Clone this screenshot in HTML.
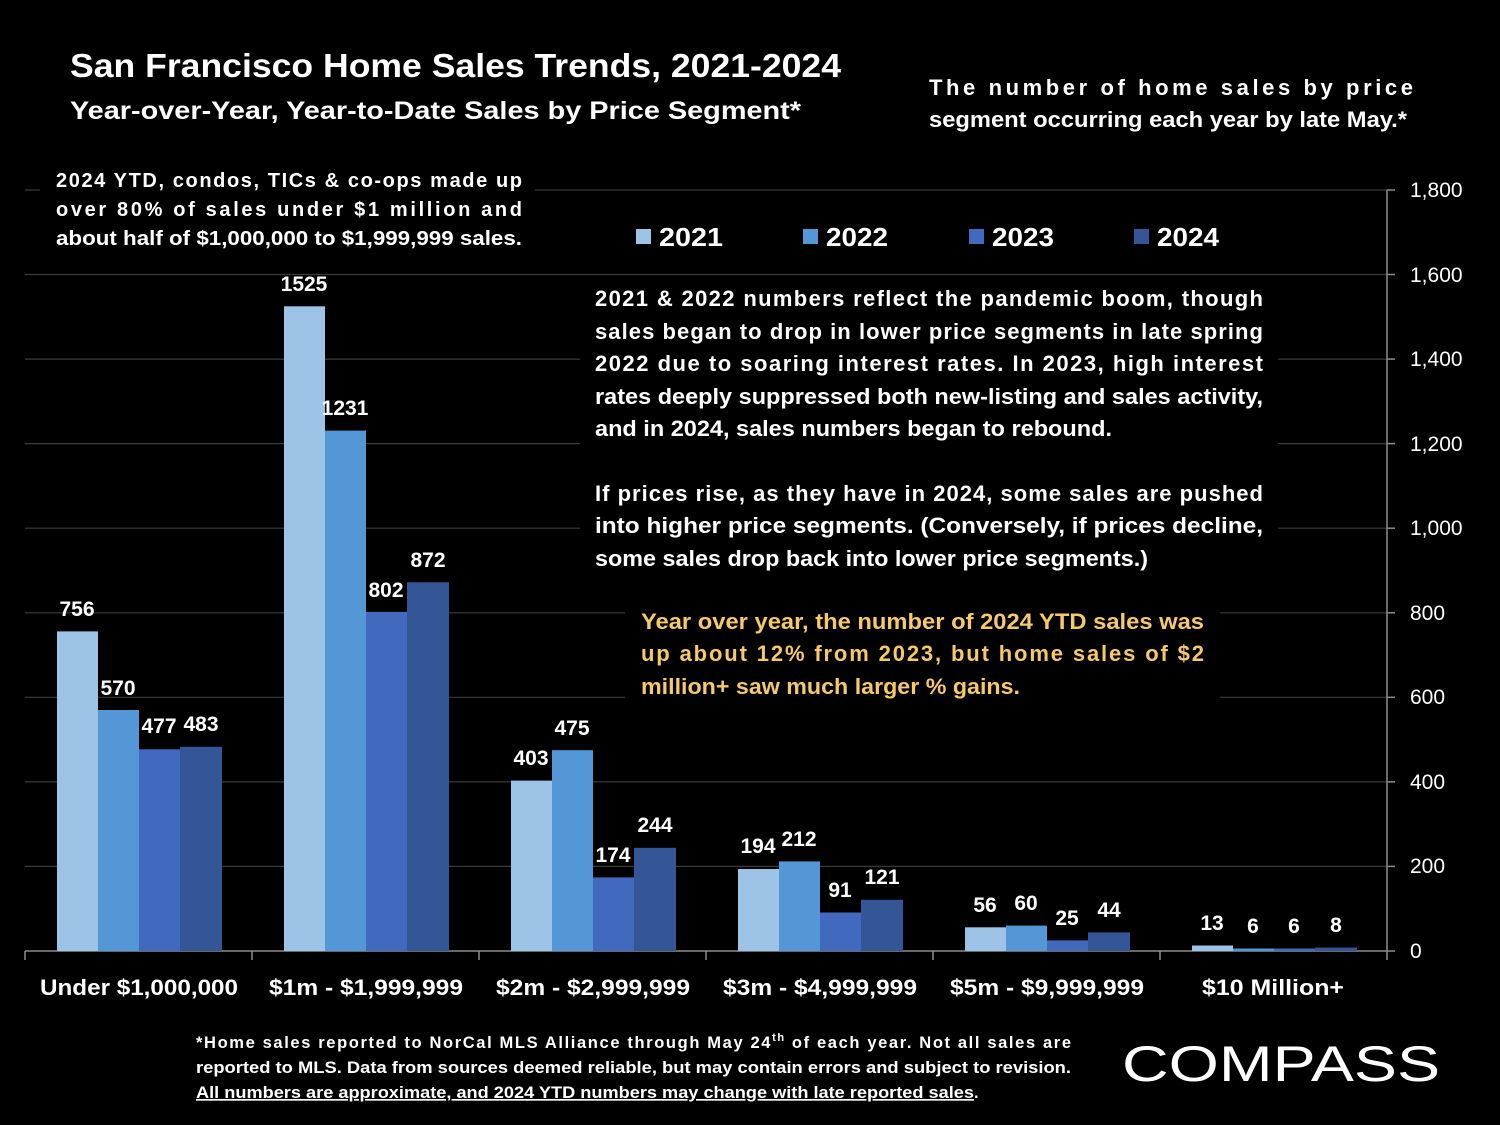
<!DOCTYPE html>
<html><head><meta charset="utf-8"><style>
html,body{margin:0;padding:0;background:#000;}
svg{display:block;font-family:"Liberation Sans",Arial,sans-serif;}
.b{font-weight:bold;fill:#fff;}
</style></head><body>
<svg width="1500" height="1125" viewBox="0 0 1500 1125" xmlns="http://www.w3.org/2000/svg">
<rect width="1500" height="1125" fill="#000"/>
<!-- gridlines -->
<g stroke="#3a3a3a" stroke-width="1.2">
<line x1="25" y1="866.4" x2="1387" y2="866.4"/>
<line x1="25" y1="781.9" x2="1387" y2="781.9"/>
<line x1="25" y1="697.3" x2="1387" y2="697.3"/>
<line x1="25" y1="612.8" x2="1387" y2="612.8"/>
<line x1="25" y1="528.2" x2="1387" y2="528.2"/>
<line x1="25" y1="443.6" x2="1387" y2="443.6"/>
<line x1="25" y1="359.1" x2="1387" y2="359.1"/>
<line x1="25" y1="274.5" x2="1387" y2="274.5"/>
<line x1="25" y1="190" x2="1387" y2="190"/>
</g>
<!-- text box backgrounds -->
<rect x="40" y="165" width="495" height="92" fill="#000"/>
<rect x="600" y="212" width="640" height="50" fill="#000"/>
<rect x="580" y="280" width="698" height="300" fill="#000"/>
<rect x="625" y="603" width="595" height="97" fill="#000"/>
<!-- axes -->
<g stroke="#8c8c8c" stroke-width="1.5">
<line x1="25" y1="951" x2="1387" y2="951"/>
<line x1="1387" y1="190" x2="1387" y2="951"/>
<line x1="25" y1="951" x2="25" y2="960"/><line x1="252" y1="951" x2="252" y2="960"/>
<line x1="479" y1="951" x2="479" y2="960"/><line x1="706" y1="951" x2="706" y2="960"/>
<line x1="933" y1="951" x2="933" y2="960"/><line x1="1160" y1="951" x2="1160" y2="960"/>
<line x1="1387" y1="951" x2="1387" y2="960"/>
<line x1="1387" y1="190" x2="1395" y2="190"/><line x1="1387" y1="274.5" x2="1395" y2="274.5"/>
<line x1="1387" y1="359.1" x2="1395" y2="359.1"/><line x1="1387" y1="443.6" x2="1395" y2="443.6"/>
<line x1="1387" y1="528.2" x2="1395" y2="528.2"/><line x1="1387" y1="612.8" x2="1395" y2="612.8"/>
<line x1="1387" y1="697.3" x2="1395" y2="697.3"/><line x1="1387" y1="781.9" x2="1395" y2="781.9"/>
<line x1="1387" y1="866.4" x2="1395" y2="866.4"/><line x1="1387" y1="951" x2="1395" y2="951"/>
</g>
<!-- y labels -->
<g fill="#fff" font-size="21" font-family="Liberation Sans, sans-serif">
<text x="1410" y="197">1,800</text><text x="1410" y="282">1,600</text>
<text x="1410" y="366">1,400</text><text x="1410" y="451">1,200</text>
<text x="1410" y="535">1,000</text><text x="1410" y="620">800</text>
<text x="1410" y="704">600</text><text x="1410" y="789">400</text>
<text x="1410" y="873">200</text><text x="1410" y="958">0</text>
</g>
<!-- bars -->
<g id="bars">
<rect x="57" y="631.4" width="41" height="319.6" fill="#9dc3e6"/>
<rect x="98" y="710" width="41" height="241" fill="#5497d6"/>
<rect x="139" y="749.3" width="41" height="201.7" fill="#4169bd"/>
<rect x="180" y="746.8" width="42" height="204.2" fill="#345697"/>
<rect x="284" y="306.3" width="41" height="644.7" fill="#9dc3e6"/>
<rect x="325" y="430.6" width="41" height="520.4" fill="#5497d6"/>
<rect x="366" y="611.9" width="41" height="339.1" fill="#4169bd"/>
<rect x="407" y="582.3" width="42" height="368.7" fill="#345697"/>
<rect x="511" y="780.6" width="41" height="170.4" fill="#9dc3e6"/>
<rect x="552" y="750.2" width="41" height="200.8" fill="#5497d6"/>
<rect x="593" y="877.4" width="41" height="73.6" fill="#4169bd"/>
<rect x="634" y="847.8" width="42" height="103.2" fill="#345697"/>
<rect x="738" y="869" width="41" height="82" fill="#9dc3e6"/>
<rect x="779" y="861.4" width="41" height="89.6" fill="#5497d6"/>
<rect x="820" y="912.5" width="41" height="38.5" fill="#4169bd"/>
<rect x="861" y="899.8" width="42" height="51.2" fill="#345697"/>
<rect x="965" y="927.3" width="41" height="23.7" fill="#9dc3e6"/>
<rect x="1006" y="925.6" width="41" height="25.4" fill="#5497d6"/>
<rect x="1047" y="940.4" width="41" height="10.6" fill="#4169bd"/>
<rect x="1088" y="932.4" width="42" height="18.6" fill="#345697"/>
<rect x="1192" y="945.5" width="41" height="5.5" fill="#9dc3e6"/>
<rect x="1233" y="948.5" width="41" height="2.5" fill="#5497d6"/>
<rect x="1274" y="948.5" width="41" height="2.5" fill="#4169bd"/>
<rect x="1315" y="947.6" width="42" height="3.4" fill="#345697"/>
</g>
<!-- value labels -->
<g class="b" font-size="21" text-anchor="middle">
<text x="77" y="616">756</text><text x="118" y="695">570</text><text x="159" y="733">477</text><text x="201" y="731">483</text>
<text x="304" y="291">1525</text><text x="345" y="415">1231</text><text x="386" y="597">802</text><text x="428" y="567">872</text>
<text x="531" y="765">403</text><text x="572" y="735">475</text><text x="613" y="862">174</text><text x="655" y="832">244</text>
<text x="758" y="853">194</text><text x="799" y="846">212</text><text x="840" y="897">91</text><text x="882" y="884">121</text>
<text x="985" y="912">56</text><text x="1026" y="910">60</text><text x="1067" y="925">25</text><text x="1109" y="917">44</text>
<text x="1212" y="930">13</text><text x="1253" y="933">6</text><text x="1294" y="933">6</text><text x="1336" y="932">8</text>
</g>
<!-- category labels -->
<g class="b" font-size="22" text-anchor="middle">
<text x="139" y="995" textLength="198" lengthAdjust="spacingAndGlyphs">Under $1,000,000</text>
<text x="366" y="995" textLength="194" lengthAdjust="spacingAndGlyphs">$1m - $1,999,999</text>
<text x="593" y="995" textLength="194" lengthAdjust="spacingAndGlyphs">$2m - $2,999,999</text>
<text x="820" y="995" textLength="194" lengthAdjust="spacingAndGlyphs">$3m - $4,999,999</text>
<text x="1047" y="995" textLength="194" lengthAdjust="spacingAndGlyphs">$5m - $9,999,999</text>
<text x="1273" y="995" textLength="142" lengthAdjust="spacingAndGlyphs">$10 Million+</text>
</g>
<!-- legend -->
<rect x="636" y="229" width="15" height="15" fill="#9dc3e6"/>
<rect x="803" y="229" width="15" height="15" fill="#5497d6"/>
<rect x="969" y="229" width="15" height="15" fill="#4169bd"/>
<rect x="1134" y="229" width="15" height="15" fill="#345697"/>
<g class="b" font-size="26">
<text x="659" y="246" textLength="64" lengthAdjust="spacingAndGlyphs">2021</text>
<text x="826" y="246" textLength="62" lengthAdjust="spacingAndGlyphs">2022</text>
<text x="992" y="246" textLength="62" lengthAdjust="spacingAndGlyphs">2023</text>
<text x="1157" y="246" textLength="62" lengthAdjust="spacingAndGlyphs">2024</text>
</g>
<!-- title -->
<text class="b" x="70" y="77" font-size="33" textLength="771" lengthAdjust="spacingAndGlyphs">San Francisco Home Sales Trends, 2021-2024</text>
<text class="b" x="70" y="119" font-size="25" textLength="731" lengthAdjust="spacingAndGlyphs">Year-over-Year, Year-to-Date Sales by Price Segment*</text>
<g class="b" font-size="22">
<text x="929" y="95" textLength="484" lengthAdjust="spacing">The number of home sales by price</text>
<text x="929" y="127" textLength="478" lengthAdjust="spacingAndGlyphs">segment occurring each year by late May.*</text>
</g>
<!-- left note -->
<g class="b" font-size="20">
<text x="56" y="187" textLength="466" lengthAdjust="spacing">2024 YTD, condos, TICs &amp; co-ops made up</text>
<text x="56" y="216" textLength="466" lengthAdjust="spacing">over 80% of sales under $1 million and</text>
<text x="56" y="245" textLength="466" lengthAdjust="spacingAndGlyphs">about half of $1,000,000 to $1,999,999 sales.</text>
</g>
<!-- main paragraph -->
<g class="b" font-size="22">
<text x="595" y="306" textLength="668" lengthAdjust="spacing">2021 &amp; 2022 numbers reflect the pandemic boom, though</text>
<text x="595" y="339" textLength="668" lengthAdjust="spacing">sales began to drop in lower price segments in late spring</text>
<text x="595" y="371" textLength="668" lengthAdjust="spacing">2022 due to soaring interest rates. In 2023, high interest</text>
<text x="595" y="404" textLength="668" lengthAdjust="spacingAndGlyphs">rates deeply suppressed both new-listing and sales activity,</text>
<text x="595" y="436" textLength="517" lengthAdjust="spacingAndGlyphs">and in 2024, sales numbers began to rebound.</text>
<text x="595" y="501" textLength="668" lengthAdjust="spacing">If prices rise, as they have in 2024, some sales are pushed</text>
<text x="595" y="533" textLength="668" lengthAdjust="spacingAndGlyphs">into higher price segments. (Conversely, if prices decline,</text>
<text x="595" y="566" textLength="553" lengthAdjust="spacingAndGlyphs">some sales drop back into lower price segments.)</text>
</g>
<g font-weight="bold" fill="#f6c96b" font-size="22">
<text x="641" y="629" textLength="563" lengthAdjust="spacingAndGlyphs">Year over year, the number of 2024 YTD sales was</text>
<text x="641" y="661" textLength="563" lengthAdjust="spacing">up about 12% from 2023, but home sales of $2</text>
<text x="641" y="694" textLength="379" lengthAdjust="spacingAndGlyphs">million+ saw much larger % gains.</text>
</g>
<!-- footnote -->
<g class="b" font-size="16.5">
<text x="196" y="1048" textLength="875" lengthAdjust="spacing">*Home sales reported to NorCal MLS Alliance through May 24<tspan font-size="11" dy="-7">th</tspan><tspan dy="7"> of each year. Not all sales are</tspan></text>
<text x="196" y="1073" textLength="875" lengthAdjust="spacingAndGlyphs">reported to MLS. Data from sources deemed reliable, but may contain errors and subject to revision.</text>
<text x="196" y="1098" textLength="778" lengthAdjust="spacingAndGlyphs" text-decoration="underline">All numbers are approximate, and 2024 YTD numbers may change with late reported sales</text>
<text x="974" y="1098">.</text>
</g>
<text x="1122" y="1081" fill="#fff" font-size="50" textLength="318" lengthAdjust="spacingAndGlyphs" font-family="Liberation Sans, sans-serif">COMPASS</text>
</svg>
</body></html>
